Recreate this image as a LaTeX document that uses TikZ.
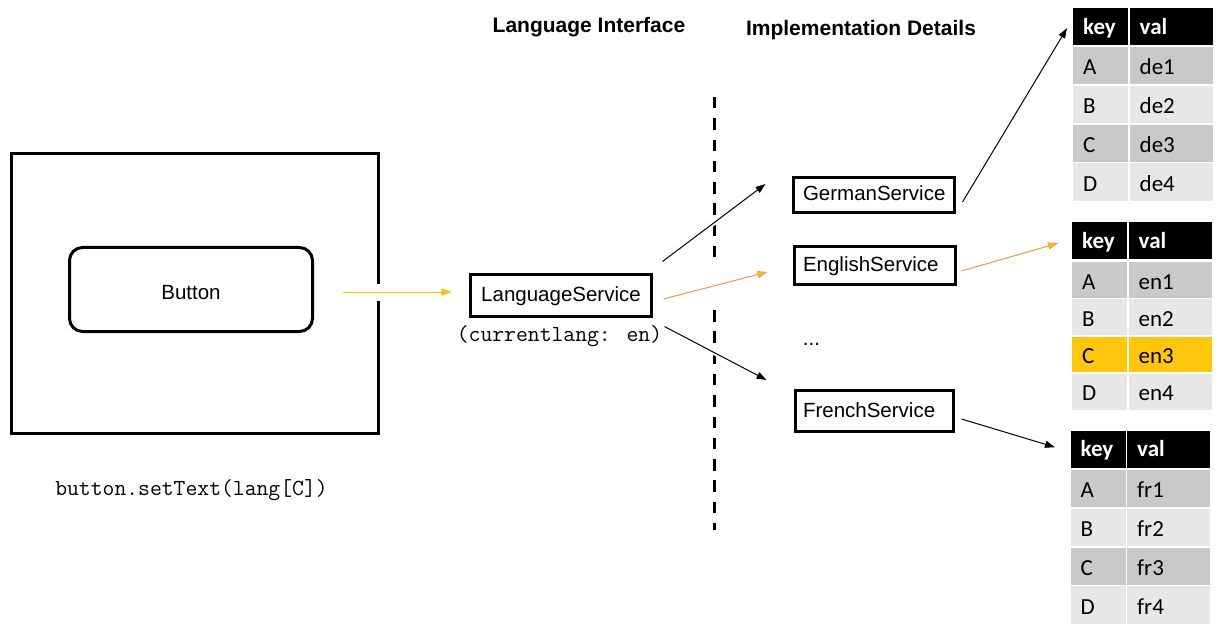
\documentclass[tikz,border=0pt]{standalone}
\usepackage{fontspec}
\setmainfont{Liberation Sans}
\newfontfamily\tabf{Carlito}
\usetikzlibrary{arrows.meta,calc}
\definecolor{rowd}{RGB}{201,201,201}
\definecolor{rowl}{RGB}{231,231,231}
\definecolor{hl}{RGB}{255,199,11}
\definecolor{yel}{RGB}{255,192,0}
\definecolor{orn}{RGB}{247,150,70}

\newcommand\kvtable[8]{%
  \node[hkey] (#1key) at (#2,#3) {key};
  \node[hval] (#1val) at ({#2+56.5},#3) {val};
  \foreach \kk/\nn/\ii/\cc in {A/1/0/rowd,B/2/1/rowl,C/3/2/#8,D/4/3/rowl}{
    \node[ckey,fill=\cc,minimum height=#6pt] (#1\kk) at (#2,{#4+\ii*#5}) {\kk};
    \node[cval,fill=\cc,minimum height=#6pt] (#1\kk v) at ({#2+56.5},{#4+\ii*#5}) {#7\nn};
  }%
}

\begin{document}
\begin{tikzpicture}[x=1pt,y=-1pt,
  sansf/.style={font=\fontsize{20.5}{24}\selectfont},
  box/.style={draw, line width=3pt, inner ysep=0pt, align=left, sansf, text height=15pt, text depth=3pt},
  hdr/.style={anchor=base, inner sep=0pt, font=\bfseries\fontsize{21}{25}\selectfont},
  mono/.style={anchor=base, inner sep=0pt, font=\ttfamily\fontsize{23}{27}\selectfont},
  conn/.style={line width=1pt, -{Triangle[length=10pt,width=7pt]}},
  halo/.style={preaction={draw=white, line width=5pt, -}},
  cell/.style={anchor=north west, inner xsep=10pt, inner ysep=0pt, align=left,
    font=\tabf\fontsize{23}{27}\selectfont, text height=18pt, text depth=0pt},
  hkey/.style={cell, fill=black, text=white, font=\tabf\bfseries\fontsize{23}{27}\selectfont,
    text width=35pt, minimum height=37pt, text height=15.5pt},
  hval/.style={hkey, text width=63pt},
  ckey/.style={cell, text width=35pt},
  cval/.style={cell, text width=63pt}]
\useasboundingbox[fill=white] (0,0) rectangle (1221,631);

% left window and button
\node[draw, line width=3pt, minimum width=367pt, minimum height=280pt, inner sep=0pt] (frame) at (195,293.5) {};
\node[draw, line width=3pt, rounded corners=13pt, minimum width=243pt, minimum height=84pt,
  inner sep=0pt, sansf, text height=20pt, text depth=0pt] (btn) at (191,289.5) {Button};
\node[mono] (code) at (191.5,495) {button.setText(lang[C])};

% headers
\node[hdr] (lihdr) at (589,33) {Language Interface};
\node[hdr] (idhdr) at (861,35.5) {Implementation Details};

% dashed separator
\draw[line width=3pt, dash pattern=on 11.5pt off 9.8pt] (714,97) -- (714,530);
\fill[white] (707,257) rectangle (721,307);
\fill[white] (375,284) rectangle (382,301);

% service boxes
\node[box, minimum height=42pt, inner xsep=0pt, align=center, text depth=4pt, text width=181pt] (ls) at (561,295.5) {LanguageService};
\node[mono] (cl) at (559.5,341) {(currentlang: en)};
\node[box, minimum height=35pt, inner xsep=9.5pt, text width=142pt] (ger) at (874,195) {GermanService};
\node[box, minimum height=38pt, inner xsep=8.5pt, text width=144pt] (eng) at (875,265.5) {EnglishService};
\node[box, minimum height=41pt, inner xsep=7.5pt, text width=143pt] (fre) at (874.5,411) {FrenchService};
\node[anchor=base, inner sep=0pt, sansf] (dots) at (811.5,345) {...};

% tables
\kvtable{de}{1073}{8}{47}{38.75}{37.25}{de}{rowd}
\kvtable{en}{1072}{222}{262}{37.25}{35.75}{en}{hl}
\kvtable{fr}{1070.5}{430.5}{470}{38.75}{37.25}{fr}{rowd}

% connectors
\draw[conn, yel] ($(btn.east)+(28.5,2.5)$) -- ($(ls.west)+(-17.5,-3.5)$);
\draw[conn, halo] ($(ls.north east)+(9.5,-11.5)$) -- ($(ger.west)+(-26.5,-11)$);
\draw[conn, orn, -{Triangle[length=10pt,width=7pt,fill=yel]}] ($(ls.east)+(10.5,3.5)$) -- ($(eng.west)+(-25.5,6.5)$);
\draw[conn, halo] ($(ls.south east)+(11.5,8.5)$) -- ($(fre.west)+(-27.5,-31)$);
\draw[conn] ($(ger.east)+(6.5,7)$) -- ($(dekey.west)+(-6,1.5)$);
\draw[conn, orn, -{Triangle[length=10pt,width=7pt,fill=yel]}] ($(eng.east)+(4.5,5.5)$) -- ($(enkey.west)+(-14,2.5)$);
\draw[conn] ($(fre.east)+(6.5,8)$) -- ($(frkey.west)+(-15.5,-2)$);
\end{tikzpicture}
\end{document}
